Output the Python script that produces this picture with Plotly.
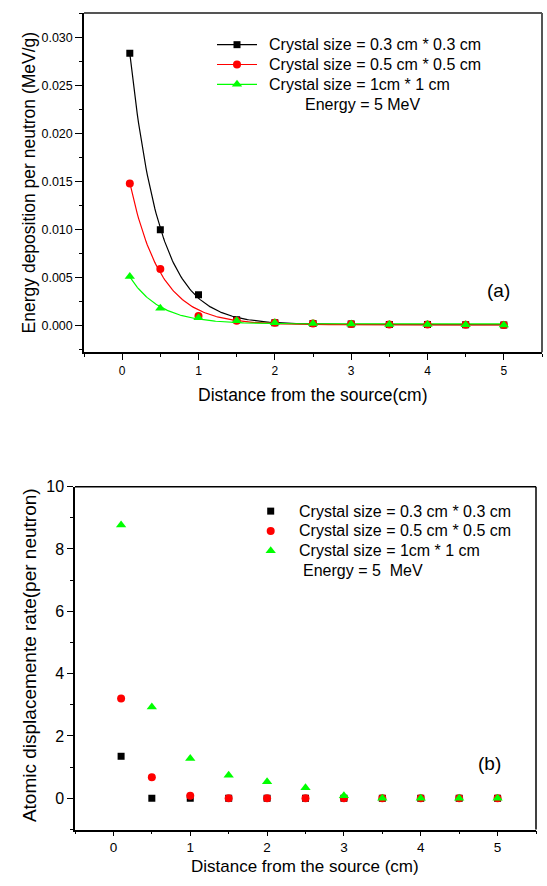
import numpy as np
import plotly.graph_objects as go

# Distance from the source (cm)
distance = [0.1, 0.5, 1.0, 1.5, 2.0, 2.5, 3.0, 3.5, 4.0, 4.5, 5.0]

# Energy deposition per neutron (MeV/g)
edep_03 = [0.0284, 0.0100, 0.0032, 0.0006, 0.0003, 0.0002, 0.00015, 0.0001, 0.0001, 0.00008, 0.00005]
edep_05 = [0.0148, 0.0059, 0.0010, 0.0005, 0.0003, 0.0002, 0.00015, 0.0001, 0.0001, 0.00008, 0.00005]
edep_10 = [0.0051, 0.0018, 0.0008, 0.0005, 0.0003, 0.0002, 0.00015, 0.0001, 0.0001, 0.00008, 0.00005]

# Atomic displacement rate (per neutron)
disp_03 = [1.35, 0.0, 0.0, 0.0, 0.0, 0.0, 0.0, 0.0, 0.0, 0.0, 0.0]
disp_05 = [3.20, 0.68, 0.08, 0.0, 0.0, 0.0, 0.0, 0.0, 0.0, 0.0, 0.0]
disp_10 = [8.77, 2.93, 1.28, 0.74, 0.53, 0.34, 0.08, 0.0, 0.0, 0.0, 0.0]

labels = ["Crystal size = 0.3 cm * 0.3 cm",
          "Crystal size = 0.5 cm * 0.5 cm",
          "Crystal size = 1cm * 1 cm"]
colors = ["#000000", "#FF0000", "#00FF00"]
symbols = ["square", "circle", "triangle-up"]
msizes = [7, 8, 9]

FONT = "Liberation Sans, Arial, sans-serif"
W, H = 547, 886


def fit_expdec(x, y):
    """Least-squares fit of y = y0 + A*exp(-x/t)."""
    x = np.asarray(x, float)
    y = np.asarray(y, float)
    best = None
    for t in np.linspace(0.05, 3.0, 3000):
        M = np.column_stack([np.ones_like(x), np.exp(-x / t)])
        coef, *_ = np.linalg.lstsq(M, y, rcond=None)
        r = float(np.sum((M @ coef - y) ** 2))
        if best is None or r < best[0]:
            best = (r, coef[0], coef[1], t)
    return best[1], best[2], best[3]


def px(x):
    return x / W


def py(y):
    return 1 - y / H


fig = go.Figure()

# --- panel (a): energy deposition with exponential fits ---
xs = np.linspace(distance[0], distance[-1], 300)
for vals, c in zip([edep_03, edep_05, edep_10], colors):
    y0, a, t = fit_expdec(distance, vals)
    fig.add_trace(go.Scatter(x=xs, y=y0 + a * np.exp(-xs / t), mode="lines",
                             line=dict(color=c, width=1.2), showlegend=False,
                             xaxis="x", yaxis="y"))
for vals, c, s, ms in zip([edep_03, edep_05, edep_10], colors, symbols, msizes):
    fig.add_trace(go.Scatter(x=distance, y=vals, mode="markers",
                             marker=dict(color=c, symbol=s, size=ms, line=dict(width=0)),
                             showlegend=False, xaxis="x", yaxis="y"))

# --- panel (b): atomic displacement rate ---
for vals, c, s, ms in zip([disp_03, disp_05, disp_10], colors, symbols, msizes):
    fig.add_trace(go.Scatter(x=distance, y=vals, mode="markers",
                             marker=dict(color=c, symbol=s, size=ms, line=dict(width=0)),
                             showlegend=False, xaxis="x2", yaxis="y2"))

# --- legend keys, drawn on a full-page pixel axis ---
key_a_rows = [37, 57, 77]
key_b_rows = [507.7, 527.7, 547.7]
for row, c, s, ms in zip(key_a_rows, colors, symbols, msizes):
    fig.add_trace(go.Scatter(x=[217, 257], y=[row, row], mode="lines",
                             line=dict(color=c, width=1.2), showlegend=False,
                             xaxis="x3", yaxis="y3", hoverinfo="skip"))
    fig.add_trace(go.Scatter(x=[237], y=[row], mode="markers",
                             marker=dict(color=c, symbol=s, size=ms, line=dict(width=0)),
                             showlegend=False, xaxis="x3", yaxis="y3", hoverinfo="skip"))
for row, c, s, ms in zip(key_b_rows, colors, symbols, msizes):
    fig.add_trace(go.Scatter(x=[270.7], y=[row], mode="markers",
                             marker=dict(color=c, symbol=s, size=ms, line=dict(width=0)),
                             showlegend=False, xaxis="x3", yaxis="y3", hoverinfo="skip"))

axis_common = dict(showline=True, linecolor="black", linewidth=1.5, ticks="outside",
                   tickcolor="black", tickwidth=1.2, showgrid=False, zeroline=False,
                   mirror=False)

fig.update_layout(
    width=W, height=H, margin=dict(l=0, r=0, t=0, b=0),
    paper_bgcolor="white", plot_bgcolor="rgba(0,0,0,0)",
    font=dict(family=FONT, color="black"),
    showlegend=False,
    xaxis=dict(domain=[px(84), px(542)], range=[-0.5, 5.5], dtick=1, tick0=0, ticklen=6,
               tickfont=dict(size=12), anchor="y",
               minor=dict(dtick=0.5, tick0=0, ticklen=3, ticks="outside", tickcolor="black"),
               **axis_common),
    yaxis=dict(domain=[py(347.5), py(5)], range=[-0.0028, 0.0326], dtick=0.005, tick0=0,
               tickformat=".3f", ticklen=7, tickfont=dict(size=12.5), anchor="x",
               minor=dict(dtick=0.0025, tick0=0, ticklen=3, ticks="outside", tickcolor="black"),
               **axis_common),
    xaxis2=dict(domain=[px(75), px(536)], range=[-0.5, 5.5], dtick=1, tick0=0, ticklen=5,
                tickfont=dict(size=13.5), anchor="y2",
                minor=dict(dtick=0.5, tick0=0, ticklen=3, ticks="outside", tickcolor="black"),
                **axis_common),
    yaxis2=dict(domain=[py(829), py(483)], range=[-1, 10], dtick=2, tick0=0, ticklen=6,
                tickfont=dict(size=16), anchor="x2",
                minor=dict(dtick=1, tick0=0, ticklen=3, ticks="outside", tickcolor="black"),
                **axis_common),
    xaxis3=dict(domain=[0, 1], range=[0, W], visible=False, fixedrange=True, anchor="y3"),
    yaxis3=dict(domain=[0, 1], range=[H, 0], visible=False, fixedrange=True, anchor="x3"),
)

# frame edges (top and right) of both panels
fig.add_shape(type="line", xref="paper", yref="paper", x0=px(84), x1=px(542), y0=py(5), y1=py(5),
              line=dict(color="#555555", width=2))
fig.add_shape(type="line", xref="paper", yref="paper", x0=px(542), x1=px(542), y0=py(5), y1=py(347.5),
              line=dict(color="#555555", width=2))
fig.add_shape(type="line", xref="paper", yref="paper", x0=px(75), x1=px(536), y0=py(483), y1=py(483),
              line=dict(color="black", width=1.5))
fig.add_shape(type="line", xref="paper", yref="paper", x0=px(536), x1=px(536), y0=py(483), y1=py(829),
              line=dict(color="black", width=1.5))

texts = []
for row, lab in zip(key_a_rows, labels):
    texts.append((lab, 267, row, "left", 16))
texts.append(("Energy = 5 MeV", 303, 97, "left", 16))
for row, lab in zip(key_b_rows, labels):
    texts.append((lab, 296.7, row, "left", 16))
texts.append(("Energy = 5  MeV", 300.7, 568, "left", 16))
texts.append(("(a)", 498, 285, "center", 19))
texts.append(("(b)", 489, 762, "center", 19))
texts.append(("Distance from the source(cm)", 313, 391, "center", 17.5))
texts.append(("Distance from the source (cm)", 305, 866, "center", 17))

for txt, x, y, xa, size in texts:
    fig.add_annotation(text=txt, x=px(x), y=py(y), xref="paper", yref="paper",
                       xanchor=xa, yanchor="middle", showarrow=False,
                       font=dict(size=size, family=FONT, color="black"))

fig.add_annotation(text="Energy deposition per neutron (MeV/g)", x=px(29), y=py(176),
                   xref="paper", yref="paper", textangle=-90, showarrow=False,
                   xanchor="center", yanchor="middle", font=dict(size=17.5, family=FONT))
fig.add_annotation(text="Atomic displacemente rate(per neutron)", x=px(29), y=py(653),
                   xref="paper", yref="paper", textangle=-90, showarrow=False,
                   xanchor="center", yanchor="middle", font=dict(size=19, family=FONT))

fig.write_html("out.html")
